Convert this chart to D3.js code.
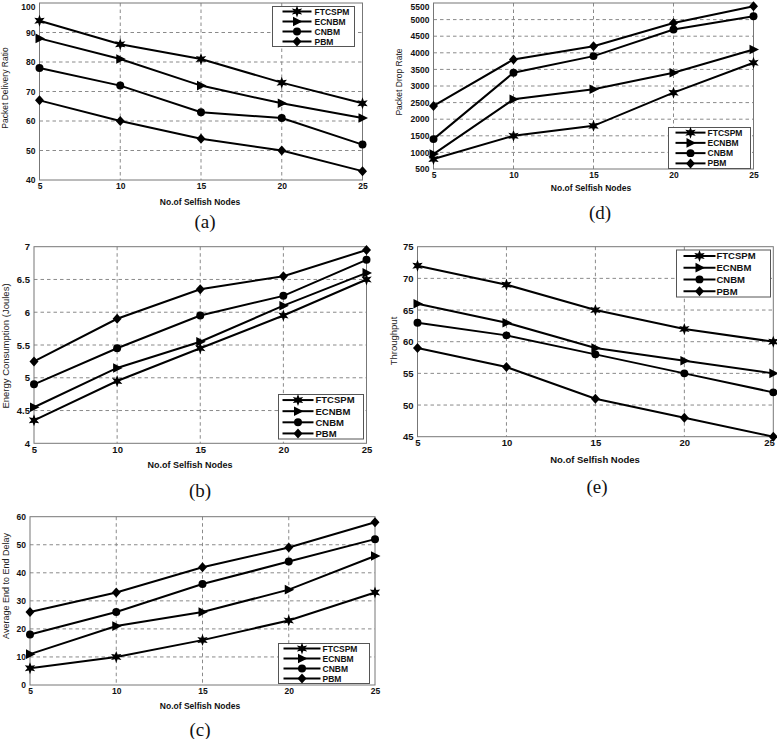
<!DOCTYPE html>
<html>
<head>
<meta charset="utf-8">
<title>Selfish nodes comparison</title>
<script src="https://cdn.jsdelivr.net/npm/d3@7/dist/d3.min.js"></script>
<style>
  body { margin: 0; background: #fff; }
  .tick text { font-family: "Liberation Sans", Arial, sans-serif; font-weight: bold; fill: #111; }
  .grid line { stroke: #8a8a8a; stroke-width: 1; stroke-dasharray: 3.5,3; }
  .frame { fill: none; stroke: #777; stroke-width: 1; }
  .series { fill: none; stroke: #000; stroke-width: 2; }
  .ylabel { font-family: "Liberation Sans", Arial, sans-serif; fill: #222; }
  .xlabel { font-family: "Liberation Sans", Arial, sans-serif; font-weight: bold; fill: #111; }
  .caption { font-family: "Liberation Serif", "DejaVu Serif", serif; fill: #111; }
  .legend rect { fill: #fff; stroke: #555; stroke-width: 1; }
  .legend text { font-family: "Liberation Sans", Arial, sans-serif; font-weight: bold; fill: #111; }
</style>
</head>
<body>
<svg id="screen" width="777" height="739"></svg>
<script>
// x values shared by every panel
const nodes = [5, 10, 15, 20, 25]
const seriesNames = ['FTCSPM', 'ECNBM', 'CNBM', 'PBM']

// (a) packet delivery ratio
const deliveryRatio = [
  [94, 86, 81, 73, 66],
  [88, 81, 72, 66, 61],
  [78, 72, 63, 61, 52],
  [67, 60, 54, 50, 43]
]
const deliveryTicks = [40, 50, 60, 70, 80, 90, 100]

// (d) packet drop rate
const dropRate = [
  [800, 1500, 1800, 2800, 3700],
  [950, 2600, 2900, 3400, 4100],
  [1400, 3400, 3900, 4700, 5100],
  [2400, 3800, 4200, 4900, 5400]
]
const dropTicks = [500, 1000, 1500, 2000, 2500, 3000, 3500, 4000, 4500, 5000, 5500]

// (b) energy consumption
const energy = [
  [4.35, 4.95, 5.45, 5.95, 6.5],
  [4.55, 5.15, 5.55, 6.1, 6.6],
  [4.9, 5.45, 5.95, 6.25, 6.8],
  [5.25, 5.9, 6.35, 6.55, 6.95]
]
const energyTicks = [4, 4.5, 5, 5.5, 6, 6.5, 7]

// (e) throughput
const throughput = [
  [72, 69, 65, 62, 60],
  [66, 63, 59, 57, 55],
  [63, 61, 58, 55, 52],
  [59, 56, 51, 48, 45]
]
const throughputTicks = [45, 50, 55, 60, 65, 70, 75]

// (c) end to end delay
const delay = [
  [6, 10, 16, 23, 33],
  [11, 21, 26, 34, 46],
  [18, 26, 36, 44, 52],
  [26, 33, 42, 49, 58]
]
const delayTicks = [0, 10, 20, 30, 40, 50, 60]

let svg = d3.select('#screen')

// marker shapes: star, right triangle, circle, diamond
function starPath() {
  let pts = d3.range(12).map(k => {
    let r = k % 2 ? 2.7 : 6
    let a = k * Math.PI / 6 - Math.PI / 2
    return [r * Math.cos(a), r * Math.sin(a)]
  })
  return d3.line()(pts) + 'Z'
}
const markers = [
  starPath(),
  'M5.5,0L-4,-4.8L-4,4.8Z',
  d3.symbol(d3.symbolCircle, 50)(),
  'M0,-5L4.5,0L0,5L-4.5,0Z'
]

function drawPanel(p) {
  let x = d3.scaleLinear().domain([5, 25]).range([p.left, p.right])
  let y = d3.scaleLinear().domain([p.ticks[0], p.ticks[p.ticks.length - 1]]).range([p.bottom, p.top])
  let g = svg.append('g')

  // dashed grid
  let grid = g.append('g').attr('class', 'grid')
  grid.selectAll('line.h').data(p.ticks.slice(1, -1)).join('line')
    .attr('class', 'h')
    .attr('x1', p.left).attr('x2', p.right)
    .attr('y1', d => y(d)).attr('y2', d => y(d))
  grid.selectAll('line.v').data(nodes.slice(1, -1)).join('line')
    .attr('class', 'v')
    .attr('y1', p.top).attr('y2', p.bottom)
    .attr('x1', d => x(d)).attr('x2', d => x(d))

  // axes (ticks only, frame drawn separately)
  let xa = g.append('g')
    .attr('transform', `translate(0,${p.bottom})`)
    .call(d3.axisBottom(x).tickValues(nodes).tickFormat(d => String(d)).tickSize(0).tickPadding(3))
  let ya = g.append('g')
    .attr('transform', `translate(${p.left},0)`)
    .call(d3.axisLeft(y).tickValues(p.ticks).tickFormat(d => String(d)).tickSize(0).tickPadding(4))
  xa.select('.domain').remove()
  ya.select('.domain').remove()
  xa.selectAll('text').style('font-size', p.tickFont + 'px')
  ya.selectAll('text').style('font-size', p.tickFont + 'px')
  // keep edge labels inside the page
  if (p.right > 770) xa.selectAll('text').filter(d => d === 25).attr('text-anchor', 'end').attr('dx', '0.1em')
  if (p.top < 6) ya.selectAll('text').filter(d => d === p.ticks[p.ticks.length - 1]).attr('dy', '0.75em')

  g.append('rect').attr('class', 'frame')
    .attr('x', p.left).attr('y', p.top)
    .attr('width', p.right - p.left).attr('height', p.bottom - p.top)

  // series lines + markers
  let line = d3.line().x((d, i) => x(nodes[i])).y(d => y(d))
  p.values.forEach((vals, s) => {
    g.append('path').attr('class', 'series').attr('d', line(vals))
    g.selectAll('path.m' + s).data(vals).join('path')
      .attr('class', 'm' + s)
      .attr('d', markers[s])
      .attr('transform', (d, i) => `translate(${x(nodes[i])},${y(d)})`)
      .attr('fill', '#000')
  })

  // labels
  g.append('text').attr('class', 'ylabel')
    .attr('transform', `translate(${p.ylab[0]},${p.ylab[1]}) rotate(-90)`)
    .attr('text-anchor', 'middle')
    .style('font-size', p.ylab[2] + 'px')
    .text(p.ytitle)
  g.append('text').attr('class', 'xlabel')
    .attr('x', p.xlab[0]).attr('y', p.xlab[1])
    .attr('text-anchor', 'middle')
    .style('font-size', p.xlab[2] + 'px')
    .text('No.of Selfish Nodes')
  g.append('text').attr('class', 'caption')
    .attr('x', p.cap[0]).attr('y', p.cap[1])
    .attr('text-anchor', 'middle')
    .style('font-size', '19px')
    .text(p.caption)

  // legend
  let L = p.legend
  let lg = g.append('g').attr('class', 'legend')
  lg.append('rect').attr('x', L.x).attr('y', L.y).attr('width', L.w).attr('height', L.h)
  seriesNames.forEach((name, s) => {
    let ry = L.y + L.h * (s + 0.5) / 4
    lg.append('line').attr('x1', L.x + L.l1).attr('x2', L.x + L.l2)
      .attr('y1', ry).attr('y2', ry).attr('stroke', '#000').attr('stroke-width', 2)
    lg.append('path').attr('d', markers[s])
      .attr('transform', `translate(${L.x + (L.l1 + L.l2) / 2},${ry})`)
    lg.append('text').attr('x', L.x + L.t).attr('y', ry).attr('dy', '0.36em')
      .style('font-size', L.font + 'px')
      .text(name)
  })
}

drawPanel({
  values: deliveryRatio, ticks: deliveryTicks, ytitle: 'Packet Delivery Ratio', caption: '(a)',
  left: 39.5, right: 362.5, top: 3, bottom: 180, tickFont: 8.5,
  ylab: [8, 88, 8.5], xlab: [200, 205, 8.5], cap: [205, 228],
  legend: {x: 272.5, y: 6.5, w: 82, h: 40, l1: 10, l2: 39, t: 42, font: 8.5}
})
drawPanel({
  values: dropRate, ticks: dropTicks, ytitle: 'Packet Drop Rate', caption: '(d)',
  left: 433.5, right: 753.5, top: 3, bottom: 169, tickFont: 8.5,
  ylab: [402, 82, 8.5], xlab: [591, 191, 8.5], cap: [600, 219],
  legend: {x: 668.5, y: 127.5, w: 82, h: 41, l1: 7, l2: 37, t: 39, font: 8.5}
})
drawPanel({
  values: energy, ticks: energyTicks, ytitle: 'Energy Consumption (Joules)', caption: '(b)',
  left: 34, right: 366.5, top: 246.7, bottom: 443.3, tickFont: 9.5,
  ylab: [9, 346, 9.5], xlab: [190, 468, 9], cap: [200, 497],
  legend: {x: 278.5, y: 394.5, w: 85, h: 44.5, l1: 4, l2: 35, t: 37, font: 9.5}
})
drawPanel({
  values: throughput, ticks: throughputTicks, ytitle: 'Throughput', caption: '(e)',
  left: 417.5, right: 773.3, top: 246.7, bottom: 436.7, tickFont: 9.5,
  ylab: [397, 341, 9.5], xlab: [595, 463, 9.5], cap: [597, 493],
  legend: {x: 676.5, y: 250, w: 94, h: 47, l1: 7, l2: 39, t: 40, font: 9.5}
})
drawPanel({
  values: delay, ticks: delayTicks, ytitle: 'Average End to End Delay', caption: '(c)',
  left: 30, right: 375, top: 516.7, bottom: 685, tickFont: 8.5,
  ylab: [8.5, 586, 9], xlab: [200, 709, 8.5], cap: [200, 736],
  legend: {x: 278.5, y: 643.5, w: 91, h: 40, l1: 5, l2: 42, t: 44, font: 8.5}
})
</script>
</body>
</html>
